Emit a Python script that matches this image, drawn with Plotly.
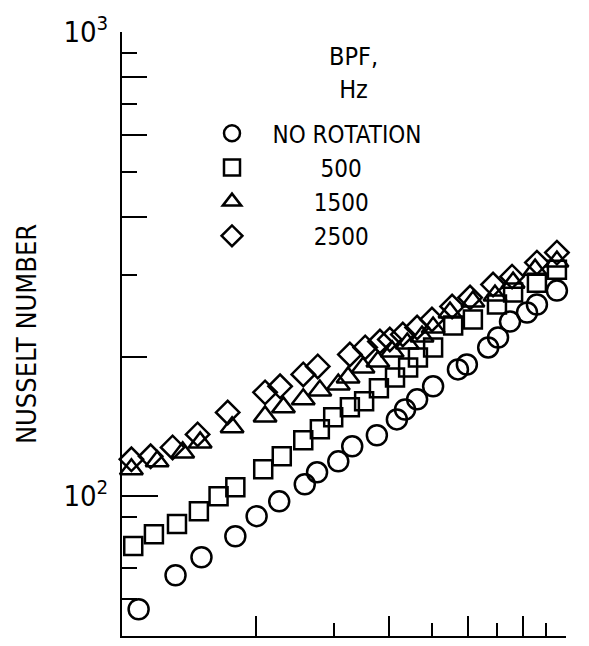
import math
import plotly.graph_objects as go

# ---- data ----
x_norot = [1.09, 1.32, 1.51, 1.80, 2.01, 2.26, 2.58, 2.75, 3.07, 3.30, 3.75, 4.16, 4.34,
           4.62, 5.02, 5.71, 5.98, 6.68, 7.03, 7.48, 8.17, 8.60, 9.54, 10.05, 10.59]
nu_norot = [57.1, 67.6, 73.9, 82.0, 90.6, 97.5, 106.1, 112.6, 118.9, 128.1, 135.3, 146.4, 153.8,
            161.7, 172.5, 187.6, 192.2, 209.2, 219.8, 237.8, 248.7, 258.8, 277.3, 284.3, 288.5]

x_500 = [1.06, 1.18, 1.33, 1.49, 1.65, 1.80, 2.08, 2.29, 2.56, 2.79, 2.99, 3.26, 3.51,
         3.79, 4.12, 4.41, 4.64, 5.02, 5.57, 6.17, 6.99, 7.60, 8.60, 9.54, 10.21, 10.86]
nu_500 = [78.1, 82.8, 87.1, 92.8, 100.0, 104.6, 114.3, 121.9, 132.0, 139.4, 147.9, 155.4, 160.1,
          170.8, 180.3, 189.4, 199.0, 209.2, 233.2, 240.3, 258.8, 274.6, 288.5, 307.7, 312.3, 315.5]

x_1500 = [1.05, 1.20, 1.37, 1.50, 1.77, 2.10, 2.31, 2.56, 2.79, 3.07, 3.23, 3.49, 3.77,
          4.06, 4.39, 4.74, 5.02, 5.48, 6.17, 6.92, 7.60, 8.52, 9.54, 10.31, 10.86]
nu_1500 = [114.3, 118.9, 124.3, 130.6, 140.8, 148.6, 155.4, 161.7, 169.0, 174.1, 180.3, 189.4, 195.1,
           205.1, 213.3, 220.9, 230.9, 248.7, 262.7, 270.6, 288.5, 307.7, 320.2, 325.0, 328.2]

x_2500 = [1.05, 1.16, 1.30, 1.48, 1.73, 2.10, 2.27, 2.56, 2.76, 3.26, 3.53, 3.81, 4.01,
          4.29, 4.62, 4.99, 5.54, 6.08, 6.85, 7.56, 8.60, 9.54, 10.10, 10.64, 10.92]
nu_2500 = [120.1, 121.9, 127.4, 135.9, 151.5, 167.4, 172.5, 183.0, 190.4, 202.0, 209.2, 215.4, 217.6,
           223.1, 230.9, 240.3, 256.3, 267.9, 285.7, 297.2, 318.6, 334.8, 339.8, 339.8, 334.8]

series_names = ["NO ROTATION", "500", "1500", "2500"]
legend_title = "BPF,<br>Hz"
y_title = "NUSSELT NUMBER"

x_major_ticks = [2, 4, 6, 8]
x_minor_ticks = [3, 5, 7, 9]
x_end_tick = [10]
y_label_ticks = [100, 1000]
y_label_text = ["10<sup>2</sup>", "10<sup>3</sup>"]
y_mid_ticks = [200, 400, 600, 800]
y_short_ticks = [60, 70, 90, 300, 500, 700, 900]

X_RANGE = [0, 1]
Y_RANGE = [math.log10(50), 3]

FONT = "Liberation Sans Narrow, DejaVu Sans Condensed, Arial Narrow, sans-serif"
NB = "\u00a0"
label_pad = [3, 10, 9, 9]   # non-breaking spaces that centre the BPF values under the heading

fig = go.Figure()
symbols = ["circle-open", "square-open", "triangle-up-open", "diamond-open"]
sizes = [20, 18, 20, 18]
data = [(x_norot, nu_norot), (x_500, nu_500), (x_1500, nu_1500), (x_2500, nu_2500)]
for i, (xs, ys) in enumerate(data):
    fig.add_trace(go.Scatter(
        x=xs, y=ys, mode="markers", name=NB * label_pad[i] + series_names[i],
        marker=dict(symbol=symbols[i], size=sizes[i], color="black",
                    line=dict(width=2.5, color="black")),
        cliponaxis=False,
    ))

# empty trace to carry the overlay axes used for extra tick lengths
fig.add_trace(go.Scatter(x=[], y=[], xaxis="x2", yaxis="y2", showlegend=False, hoverinfo="skip"))

annotations = [dict(
    text=y_title, textangle=-90, xref="paper", yref="paper",
    x=-0.216, y=0.5, xanchor="center", yanchor="middle", showarrow=False,
    font=dict(family=FONT, size=27, color="black"),
), dict(
    text=legend_title, xref="paper", yref="paper", x=0.522, y=0.932,
    xanchor="center", yanchor="middle", showarrow=False,
    font=dict(family=FONT, size=25, color="black"),
)]

fig.update_layout(
    width=589, height=646,
    margin=dict(l=122, r=23, t=32, b=10),
    paper_bgcolor="white", plot_bgcolor="white",
    font=dict(family=FONT, size=25, color="black"),
    showlegend=True,
    legend=dict(
        x=0.2027, y=0.869, xanchor="left", yanchor="top",
        bgcolor="rgba(0,0,0,0)",
        font=dict(family=FONT, size=24, color="black"),
        itemsizing="trace",
        tracegroupgap=0,
    ),
    xaxis=dict(
        type="log", range=X_RANGE, showgrid=False, zeroline=False,
        showline=True, linecolor="black", linewidth=2,
        ticks="inside", tickvals=x_major_ticks, ticklen=20, tickwidth=2, tickcolor="black",
        showticklabels=False,
        minor=dict(tickvals=x_minor_ticks, ticks="inside", ticklen=13, tickwidth=2,
                   tickcolor="black", showgrid=False),
    ),
    yaxis=dict(
        type="log", range=Y_RANGE, showgrid=False, zeroline=False,
        showline=True, linecolor="black", linewidth=2,
        ticks="inside", tickvals=y_label_ticks, ticktext=y_label_text,
        ticklen=36, tickwidth=2, tickcolor="black",
        tickfont=dict(family=FONT, size=29, color="black"),
        ticklabelstandoff=6,
        minor=dict(tickvals=y_short_ticks, ticks="inside", ticklen=15, tickwidth=2,
                   tickcolor="black", showgrid=False),
    ),
    xaxis2=dict(
        type="log", range=X_RANGE, overlaying="x", anchor="y", side="bottom",
        showgrid=False, zeroline=False, showline=False,
        ticks="inside", tickvals=x_end_tick, ticklen=30, tickwidth=2, tickcolor="black",
        showticklabels=False,
    ),
    yaxis2=dict(
        type="log", range=Y_RANGE, overlaying="y", anchor="x", side="left",
        showgrid=False, zeroline=False, showline=False,
        ticks="inside", tickvals=y_mid_ticks, ticklen=25, tickwidth=2, tickcolor="black",
        showticklabels=False,
    ),
    annotations=annotations,
)

fig.write_html("out.html")
